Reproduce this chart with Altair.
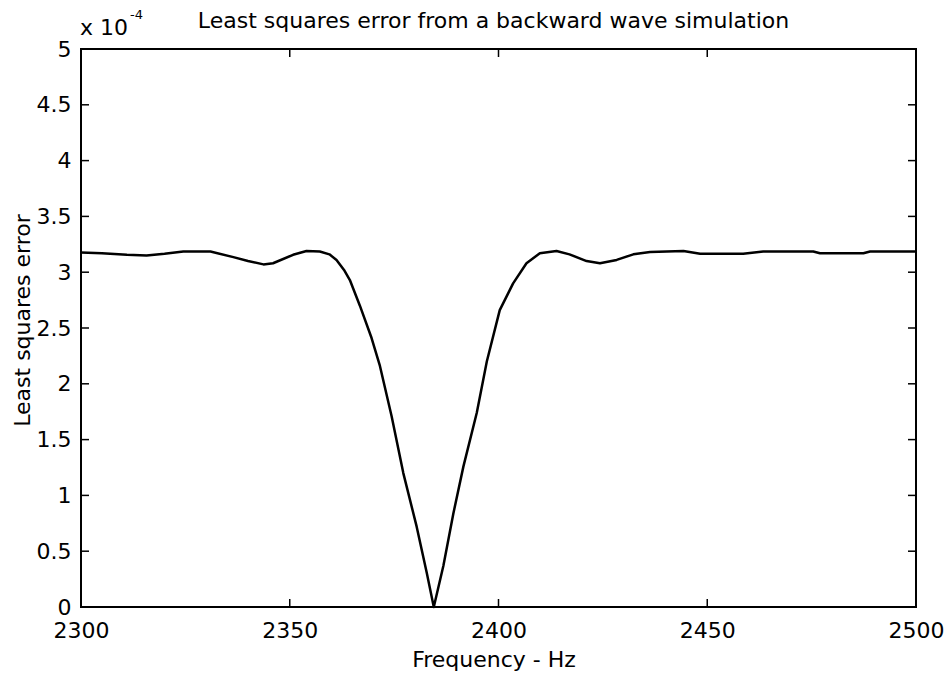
import altair as alt
import pandas as pd

# Frequency (Hz) and least squares error (x 1e-4)
freq = [2300, 2305, 2311, 2315.7, 2320, 2324.5, 2331, 2336.5, 2340, 2343.7,
        2346, 2350.8, 2354, 2357.2, 2359.5, 2361.2, 2363, 2364.4, 2366.8, 2369.6,
        2371.6, 2374.4, 2377.2, 2380.4, 2382.8, 2384.5, 2386.8, 2389.2, 2391.6, 2394.8,
        2397.2, 2400.3, 2403.5, 2406.7, 2409.9, 2413.9, 2417, 2421.1, 2424.3, 2428.3,
        2432.3, 2436.3, 2444.3, 2448.3, 2458.6, 2463.4, 2475.4, 2477, 2487.4, 2489, 2500]
err = [3.176, 3.17, 3.156, 3.15, 3.165, 3.185, 3.185, 3.135, 3.10, 3.07,
       3.08, 3.156, 3.19, 3.185, 3.16, 3.11, 3.02, 2.93, 2.70, 2.41,
       2.16, 1.71, 1.20, 0.72, 0.31, 0.0, 0.37, 0.84, 1.26, 1.74,
       2.20, 2.66, 2.90, 3.08, 3.17, 3.19, 3.16, 3.10, 3.08, 3.11,
       3.16, 3.18, 3.19, 3.165, 3.165, 3.185, 3.185, 3.17, 3.17, 3.185, 3.185]

x_ticks = [2300, 2350, 2400, 2450, 2500]
y_ticks = [0, 0.5, 1, 1.5, 2, 2.5, 3, 3.5, 4, 4.5, 5]

title_text = "Least squares error from a backward wave simulation"
x_title = "Frequency - Hz"
y_title = "Least squares error"
exp_base = "x 10"
exp_power = "-4"

W, H = 835, 558
FONT = "DejaVu Sans"
TL = 8  # tick length

df = pd.DataFrame({"f": freq, "e": err})
xt = pd.DataFrame({"v": x_ticks})
yt = pd.DataFrame({"v": y_ticks})

xscale = alt.Scale(domain=[2300, 2500], nice=False, zero=False)
yscale = alt.Scale(domain=[0, 5], nice=False, zero=False)

line = alt.Chart(df).mark_line(color="black", strokeWidth=2.5, strokeJoin="round").encode(
    x=alt.X("f:Q", scale=xscale,
            axis=alt.Axis(values=x_ticks, format="d", title=x_title,
                          titleX=W / 2 - 5, titleY=59, titleAlign="center",
                          titleBaseline="alphabetic", labelPadding=13,
                          labelFlush=False)),
    y=alt.Y("e:Q", scale=yscale,
            axis=alt.Axis(values=y_ticks, format="~g", title=y_title,
                          titleX=-52, titleY=271, titleAlign="center",
                          titleBaseline="alphabetic", titleAngle=270,
                          labelPadding=10, labelFlush=False)),
)

bt = alt.Chart(xt).mark_rule(color="black", strokeWidth=1.5).encode(
    x=alt.X("v:Q", scale=xscale), y=alt.value(H), y2=alt.value(H - TL))
tt = alt.Chart(xt).mark_rule(color="black", strokeWidth=1.5).encode(
    x=alt.X("v:Q", scale=xscale), y=alt.value(0), y2=alt.value(TL))
lt = alt.Chart(yt).mark_rule(color="black", strokeWidth=1.5).encode(
    y=alt.Y("v:Q", scale=yscale), x=alt.value(0), x2=alt.value(TL))
rt = alt.Chart(yt).mark_rule(color="black", strokeWidth=1.5).encode(
    y=alt.Y("v:Q", scale=yscale), x=alt.value(W), x2=alt.value(W - TL))

title_txt = alt.Chart(pd.DataFrame({"t": [title_text]})).mark_text(
    font=FONT, fontSize=22, align="center", baseline="alphabetic", color="black"
).encode(text="t:N", x=alt.value(W / 2 - 5), y=alt.value(-21))
base_txt = alt.Chart(pd.DataFrame({"t": [exp_base]})).mark_text(
    font=FONT, fontSize=22, align="left", baseline="alphabetic", color="black"
).encode(text="t:N", x=alt.value(-1), y=alt.value(-14))
pow_txt = alt.Chart(pd.DataFrame({"t": [exp_power]})).mark_text(
    font=FONT, fontSize=13, align="left", baseline="alphabetic", color="black"
).encode(text="t:N", x=alt.value(49), y=alt.value(-30))

chart = alt.layer(line, bt, tt, lt, rt, title_txt, base_txt, pow_txt).properties(
    width=W, height=H,
    autosize=alt.AutoSizeParams(type="none"),
    padding={"left": 81, "top": 49, "right": 30, "bottom": 66},
    background="white",
).configure_view(stroke="black", strokeWidth=2).configure_axis(
    grid=False, domain=False, ticks=False, labelFont=FONT, labelFontSize=22,
    labelColor="black", titleFont=FONT, titleFontSize=22, titleFontWeight="normal",
    titleColor="black",
)

chart.save("out.html", embed_options={"renderer": "svg", "actions": False})
